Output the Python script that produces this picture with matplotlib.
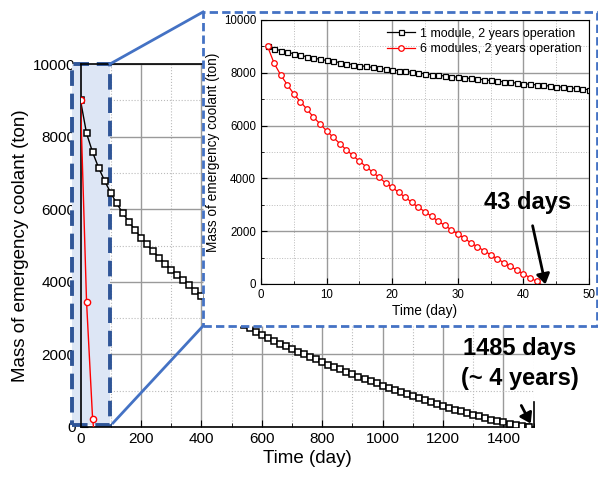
import numpy as np
import matplotlib
matplotlib.use('Agg')
import matplotlib.pyplot as plt
from matplotlib.patches import Rectangle, FancyArrowPatch
from matplotlib.lines import Line2D
from matplotlib.ticker import MultipleLocator

plt.rcParams['font.family'] = ['Liberation Sans', 'DejaVu Sans']

# 1 module, 2 years operation (main chart, every 20 days)
days_1mod = list(range(0, 1481, 20)) + [1485]
mass_1mod = [9000, 8090, 7570, 7140, 6780, 6450, 6160, 5890, 5660, 5430,
             5220, 5030, 4840, 4665, 4500, 4335, 4195, 4050, 3905, 3755,
             3620, 3490, 3365, 3245, 3130, 3020, 2915, 2815, 2720, 2630,
             2545, 2460, 2380, 2300, 2225, 2150, 2075, 2000, 1930, 1860,
             1790, 1720, 1650, 1585, 1520, 1455, 1390, 1330, 1265, 1200,
             1140, 1080, 1020, 965, 905, 850, 795, 740, 685, 635,
             580, 530, 480, 430, 385, 340, 295, 250, 205, 165,
             125, 90, 55, 25, 5, 0]

# 6 modules (main chart)
days_6mod = [0, 20, 40, 43]
mass_6mod = [9000, 3450, 230, 0]

# inset: first 50 days, daily
days_in = list(range(1, 51))
mass_1mod_in = [9000, 8910, 8840, 8780, 8720, 8660, 8610, 8560, 8510, 8470,
                8430, 8390, 8350, 8310, 8275, 8240, 8205, 8170, 8140, 8115,
                8085, 8055, 8025, 7995, 7965, 7935, 7905, 7880, 7855, 7835,
                7810, 7785, 7760, 7735, 7710, 7685, 7660, 7635, 7610, 7590,
                7565, 7545, 7520, 7500, 7475, 7455, 7430, 7410, 7385, 7360]
days_6in = list(range(1, 43)) + [42.6]
mass_6mod_in = [9000, 8360, 7920, 7550, 7200, 6910, 6620, 6320, 6065, 5800,
                5560, 5320, 5080, 4870, 4650, 4450, 4240, 4035, 3830, 3660,
                3470, 3280, 3090, 2900, 2740, 2560, 2380, 2220, 2055, 1890,
                1730, 1560, 1410, 1260, 1110, 960, 810, 670, 530, 380,
                240, 100, 0]

W, H = 598, 479
fig = plt.figure(figsize=(W / 100, H / 100), dpi=100)


def fx(x):
    return x / W


def fy(y):
    return 1 - y / H


# ---- main axes
ax = fig.add_axes([fx(80.5), fy(427), fx(533.7) - fx(80.5), fy(64) - fy(427)])
ax.plot(days_1mod, mass_1mod, color='black', lw=1, marker='s', ms=4.2,
        mfc='white', mec='black', mew=1.1, zorder=3)
ax.plot(days_6mod, mass_6mod, color='red', lw=1, marker='o', ms=4.5,
        mfc='white', mec='red', mew=1, markevery=[0, 1, 2], zorder=4)
ax.set_xlim(0, 1500)
ax.set_ylim(0, 10000)
ax.xaxis.set_major_locator(MultipleLocator(200))
ax.xaxis.set_minor_locator(MultipleLocator(100))
ax.yaxis.set_major_locator(MultipleLocator(2000))
ax.yaxis.set_minor_locator(MultipleLocator(1000))
ax.grid(which='major', color='#9a9a9a', lw=1, ls='-')
ax.grid(which='minor', color='#bbbbbb', lw=0.8, ls=':')
ax.set_axisbelow(True)
ax.tick_params(which='both', direction='in', labelsize=11)
ax.tick_params(which='major', length=5)
ax.tick_params(which='minor', length=3)
ax.set_xlabel('Time (day)', fontsize=13.5, labelpad=3)
ax.set_ylabel('Mass of emergency coolant (ton)', fontsize=13.5, labelpad=3)
for s in ax.spines.values():
    s.set_linewidth(1.2)
ax.spines['right'].set_bounds(0, 690)

# zoom region highlight (under the data)
zoom_col = '#2f5597'
ax.add_patch(Rectangle((fx(72), fy(425)), fx(110) - fx(72), fy(64) - fy(425),
                       transform=fig.transFigure, facecolor='#dde6f5',
                       edgecolor='none', clip_on=False, zorder=1))
ax.add_patch(Rectangle((fx(72), fy(425)), fx(110) - fx(72), fy(64) - fy(425),
                       transform=fig.transFigure, facecolor='none',
                       edgecolor=zoom_col, lw=2.8, ls=(0, (4, 2)),
                       clip_on=False, zorder=2))

# connector lines
box_col = '#4472c4'
fig.lines.append(Line2D([fx(110), fx(203)], [fy(64), fy(12)], transform=fig.transFigure,
                        color=box_col, lw=2, zorder=2))
fig.lines.append(Line2D([fx(113), fx(203)], [fy(423), fy(326)], transform=fig.transFigure,
                        color=box_col, lw=2, zorder=2))

# inset box
fig.patches.append(Rectangle((fx(203), fy(326)), fx(597) - fx(203), fy(12) - fy(326),
                             transform=fig.transFigure, facecolor='white',
                             edgecolor=box_col, lw=2, ls=(0, (3, 1.5)), zorder=3))

# ---- inset axes
ins = fig.add_axes([fx(261), fy(284), fx(589) - fx(261), fy(20) - fy(284)], zorder=4)
ins.plot(days_in, mass_1mod_in, color='black', lw=0.9, marker='s', ms=3.6,
         mfc='white', mec='black', mew=0.9, label='1 module, 2 years operation')
ins.plot(days_6in, mass_6mod_in, color='red', lw=0.9, marker='o', ms=4,
         mfc='white', mec='red', mew=0.9, markevery=list(range(42)),
         label='6 modules, 2 years operation')
ins.set_xlim(0, 50)
ins.set_ylim(0, 10000)
ins.xaxis.set_major_locator(MultipleLocator(10))
ins.xaxis.set_minor_locator(MultipleLocator(5))
ins.yaxis.set_major_locator(MultipleLocator(2000))
ins.yaxis.set_minor_locator(MultipleLocator(1000))
ins.grid(which='major', color='#9a9a9a', lw=1, ls='-')
ins.grid(which='minor', color='#bbbbbb', lw=0.7, ls=':')
ins.set_axisbelow(True)
ins.tick_params(which='both', direction='in', labelsize=8.3)
ins.tick_params(which='major', length=4)
ins.tick_params(which='minor', length=2)
ins.set_xlabel('Time (day)', fontsize=9.8, labelpad=2)
ins.set_ylabel('Mass of emergency coolant (ton)', fontsize=9.8, labelpad=3)
ins.legend(loc='upper right', fontsize=9, frameon=False, handlelength=2.2,
           borderaxespad=0.2, labelspacing=0.3, handletextpad=0.4)

# annotations
fig.text(fx(528), fy(203), '43 days', fontsize=17, fontweight='bold',
         ha='center', va='center', zorder=6)
fig.patches.append(FancyArrowPatch(
    (fx(532), fy(223)), (fx(546), fy(287)), transform=fig.transFigure,
    arrowstyle='-|>,head_length=6,head_width=4', color='black', lw=2,
    mutation_scale=1, zorder=6))
fig.text(fx(520), fy(349), '1485 days', fontsize=17, fontweight='bold',
         ha='center', va='center')
fig.text(fx(520), fy(378), '(~ 4 years)', fontsize=17, fontweight='bold',
         ha='center', va='center')
fig.patches.append(FancyArrowPatch(
    (fx(520), fy(403)), (fx(532), fy(426)), transform=fig.transFigure,
    arrowstyle='-|>,head_length=6,head_width=4', color='black', lw=2,
    mutation_scale=1, zorder=6))

fig.savefig('out.png', dpi=100)
